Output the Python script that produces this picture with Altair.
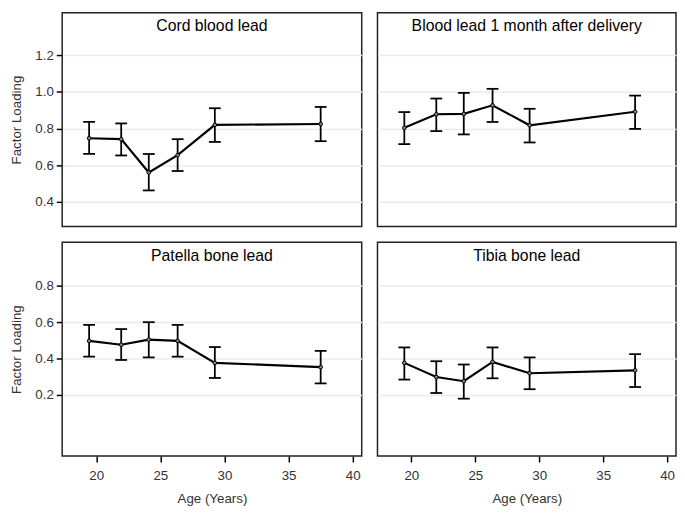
import altair as alt
import pandas as pd

panels = ["Cord blood lead", "Blood lead 1 month after delivery",
          "Patella bone lead", "Tibia bone lead"]
ages = [19.45, 21.95, 24.1, 26.35, 29.25, 37.5]

cord = [0.747, 0.742, 0.560, 0.655, 0.820, 0.825]
cord_lo = [0.662, 0.653, 0.462, 0.568, 0.727, 0.731]
cord_hi = [0.837, 0.828, 0.661, 0.742, 0.911, 0.918]

month = [0.804, 0.878, 0.880, 0.927, 0.818, 0.892]
month_lo = [0.715, 0.786, 0.768, 0.836, 0.724, 0.798]
month_hi = [0.890, 0.964, 0.995, 1.017, 0.908, 0.980]

patella = [0.497, 0.476, 0.504, 0.497, 0.376, 0.353]
patella_lo = [0.410, 0.392, 0.406, 0.410, 0.293, 0.263]
patella_hi = [0.585, 0.562, 0.600, 0.585, 0.463, 0.442]

tibia = [0.376, 0.298, 0.275, 0.381, 0.319, 0.335]
tibia_lo = [0.284, 0.210, 0.179, 0.291, 0.231, 0.243]
tibia_hi = [0.461, 0.385, 0.367, 0.461, 0.406, 0.424]

top_ticks = [0.4, 0.6, 0.8, 1.0, 1.2]
bottom_ticks = [0.2, 0.4, 0.6, 0.8]
x_ticks = [20, 25, 30, 35, 40]

series = [(cord, cord_lo, cord_hi), (month, month_lo, month_hi),
          (patella, patella_lo, patella_hi), (tibia, tibia_lo, tibia_hi)]

X_DOMAIN = [17.35, 40.7]
Y_TOP = [0.265, 1.433]
Y_BOTTOM = [-0.137, 1.04]
H = 217

AX = dict(domain=False, tickSize=6, tickWidth=1.5, tickColor="black",
          labelFontSize=13.5, titleFontSize=13.5, labelColor="#333",
          titleColor="#333", titleFontWeight="normal",
          labelFont="Liberation Sans", titleFont="Liberation Sans",
          gridColor="#ebebeb", gridWidth=1.5)


def panel(i):
    row, col = divmod(i, 2)
    vals, lo, hi = series[i]
    df = pd.DataFrame({"age": ages, "val": vals, "lo": lo, "hi": hi})
    w = 304 if col == 0 else 303
    ydom = Y_TOP if row == 0 else Y_BOTTOM
    yticks = top_ticks if row == 0 else bottom_ticks

    if col == 0:
        yaxis = alt.Axis(values=yticks, title="Factor Loading", format=".1f",
                         labelPadding=3, titlePadding=12, **AX)
    else:
        yaxis = alt.Axis(values=yticks, title=None, labels=False, ticks=False,
                         domain=False, grid=True, gridColor="#ebebeb", gridWidth=1.5)
    if row == 1:
        xaxis = alt.Axis(values=x_ticks, title="Age (Years)", grid=False,
                         labelPadding=7, titlePadding=10, **AX)
    else:
        xaxis = None

    xscale = alt.Scale(domain=X_DOMAIN, nice=False, zero=False)
    yscale = alt.Scale(domain=ydom, nice=False, zero=False)

    def X():
        return alt.X("age:Q", scale=xscale, axis=xaxis)

    def Y(f):
        return alt.Y(f + ":Q", scale=yscale, axis=yaxis)

    base = alt.Chart(df)
    line = base.mark_line(color="black", strokeWidth=2.2).encode(x=X(), y=Y("val"))
    bars = base.mark_rule(color="black", strokeWidth=1.8).encode(
        x=X(), y=Y("lo"), y2="hi:Q")
    cap_lo = base.mark_tick(color="black", orient="horizontal", size=12,
                            thickness=1.8, opacity=1).encode(x=X(), y=Y("lo"))
    cap_hi = base.mark_tick(color="black", orient="horizontal", size=12,
                            thickness=1.8, opacity=1).encode(x=X(), y=Y("hi"))
    pts = base.mark_point(shape="circle", size=14, filled=False, color="black",
                          fill="#888", fillOpacity=1, strokeWidth=1, opacity=1).encode(
        x=X(), y=Y("val"))
    title = alt.Chart(pd.DataFrame({"t": [panels[i]]})).mark_text(
        fontSize=16, color="black", baseline="middle", align="center").encode(
        text="t:N", x=alt.value(w / 2), y=alt.value(14))

    return alt.layer(line, bars, cap_lo, cap_hi, pts, title).properties(
        width=w, height=H)


chart = alt.vconcat(
    alt.hconcat(panel(0), panel(1), spacing=14),
    alt.hconcat(panel(2), panel(3), spacing=14),
    spacing=14,
).configure(
    font="Liberation Sans", padding=0
).configure_view(
    stroke="#222", strokeWidth=1.5
)

chart.save("out.html", embed_options={"renderer": "svg", "actions": False})
